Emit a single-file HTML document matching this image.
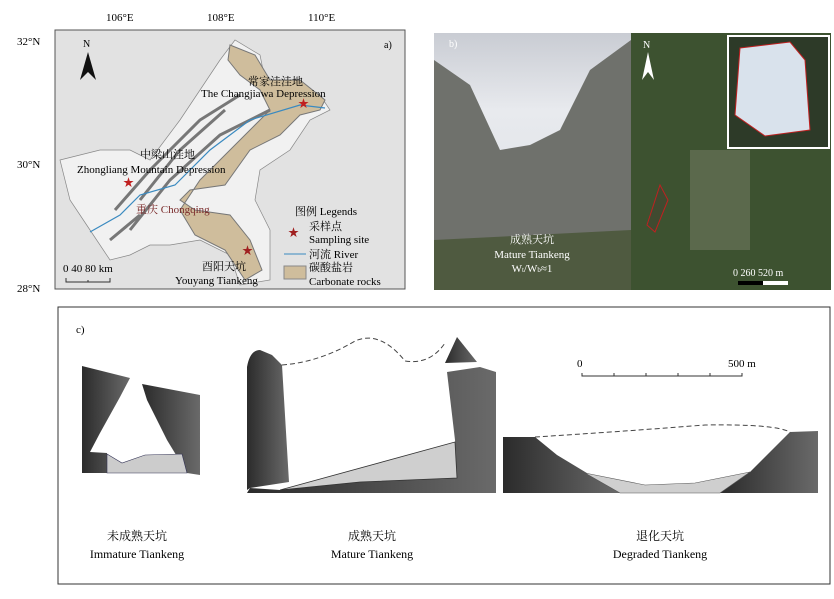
<!DOCTYPE html>
<html><head><meta charset="utf-8"><style>
body{margin:0;background:#fff;width:834px;height:599px;overflow:hidden}
svg{display:block}
text{font-family:"Liberation Serif","Noto Serif CJK SC",serif}
</style></head><body>
<svg width="834" height="599" viewBox="0 0 834 599">
<defs>
<linearGradient id="sky" x1="0" y1="0" x2="0" y2="1"><stop offset="0" stop-color="#c9ccd3"/><stop offset="0.3" stop-color="#e8eaee"/><stop offset="1" stop-color="#d9dde2"/></linearGradient>
<linearGradient id="rk" x1="0" y1="0" x2="1" y2="0"><stop offset="0" stop-color="#2b2b2b"/><stop offset="1" stop-color="#6a6a6a"/></linearGradient>
</defs>
<!-- panel a -->
<rect x="55" y="30" width="350" height="259" fill="#e2e2e2" stroke="#555"/>
<path d="M60 160 L100 150 L130 150 L150 160 L180 120 L220 60 L235 40 L260 55 L265 80 L290 80 L320 95 L330 110 L310 120 L290 150 L260 170 L255 200 L270 230 L270 280 L240 285 L230 255 L200 240 L170 245 L150 245 L130 255 L110 260 L90 230 L70 200 Z" fill="#f1f1f1" stroke="#888" stroke-width="0.7"/>
<path d="M230 45 L255 55 L270 80 L300 80 L325 100 L320 110 L300 115 L280 135 L250 150 L225 185 L190 190 L180 200 L195 210 L230 215 L250 240 L262 270 L245 280 L225 250 L195 235 L180 210 L200 180 L220 160 L250 130 L270 110 L260 90 L240 75 L228 60 Z" fill="#cfbd9c" stroke="#777" stroke-width="1"/>
<path d="M115 210 L150 170 L200 120 L240 95 M130 230 L170 180 L220 135 L270 110 M140 200 L180 150 L225 110 M110 240 L140 215" stroke="#777" stroke-width="3" fill="none"/>
<path d="M90 232 L120 215 L140 195 L175 185 L210 150 L250 120 L300 105 L325 108" stroke="#3a8ac0" stroke-width="1.2" fill="none"/>
<text x="83" y="47" font-size="10">N</text><path d="M80 80 L88 52 L96 80 L88 72 Z" fill="#111"/>
<text x="106" y="21" font-size="11">106°E</text><text x="207" y="21" font-size="11">108°E</text><text x="308" y="21" font-size="11">110°E</text>
<text x="17" y="45" font-size="11">32°N</text><text x="17" y="168" font-size="11">30°N</text><text x="17" y="292" font-size="11">28°N</text>
<text x="384" y="48" font-size="10">a)</text>
<text x="248" y="85" font-size="11">常家洼洼地</text><text x="201" y="97" font-size="11">The Changjiawa Depression</text>
<text x="140" y="158" font-size="11">中梁山洼地</text><text x="77" y="173" font-size="11">Zhongliang Mountain Depression</text>
<text x="136" y="213" font-size="11" fill="#7a2a2a">重庆 Chongqing</text>
<text x="202" y="270" font-size="11">酉阳天坑</text><text x="175" y="284" font-size="11">Youyang Tiankeng</text>
<text x="295" y="215" font-size="11">图例 Legends</text>
<text x="309" y="230" font-size="11">采样点</text><text x="309" y="243" font-size="11">Sampling site</text>
<text x="309" y="258" font-size="11">河流 River</text><text x="309" y="271" font-size="11">碳酸盐岩</text><text x="309" y="285" font-size="11">Carbonate rocks</text>
<text x="288" y="236" font-size="11" fill="#a02020">★</text><text x="242" y="254" font-size="11" fill="#a02020">★</text>
<text x="123" y="186" font-size="11" fill="#c02020">★</text><text x="298" y="107" font-size="11" fill="#c02020">★</text>
<line x1="284" y1="254" x2="306" y2="254" stroke="#3a8ac0"/>
<rect x="284" y="266" width="22" height="13" fill="#cfbd9c" stroke="#888"/>
<text x="63" y="272" font-size="11">0  40  80 km</text>
<path d="M66 278 V282 H110 V278 M88 280 V282" stroke="#333" fill="none"/>
<!-- panel b -->
<rect x="434" y="33" width="197" height="257" fill="url(#sky)"/>
<path d="M434 60 L470 85 L500 150 L530 145 L560 130 L590 70 L631 40 L631 290 L434 290 Z" fill="#6f716c"/>
<path d="M434 240 L631 230 L631 290 L434 290 Z" fill="#4f5a40"/>
<text x="532" y="243" font-size="11" fill="#fff" text-anchor="middle">成熟天坑</text>
<text x="532" y="258" font-size="11" fill="#fff" text-anchor="middle">Mature Tiankeng</text>
<text x="532" y="272" font-size="11" fill="#fff" text-anchor="middle">W<tspan font-size="7">t</tspan>/W<tspan font-size="7">b</tspan>≈1</text>
<text x="449" y="47" font-size="10" fill="#fff">b)</text>
<rect x="631" y="33" width="200" height="257" fill="#3d5230"/>
<rect x="690" y="150" width="60" height="100" fill="#6f7a5f" opacity="0.6"/>
<path d="M647 225 L660 185 L668 200 L655 232 Z" fill="#404a30" stroke="#c02020"/>
<rect x="728" y="36" width="101" height="112" fill="#2d3a28" stroke="#fff" stroke-width="2"/>
<path d="M740 48 L790 42 L805 60 L810 130 L765 136 L735 115 Z" fill="#d9e2ec" stroke="#c02020"/>
<text x="643" y="48" font-size="10" fill="#fff">N</text><path d="M642 80 L648 52 L654 80 L648 72 Z" fill="#fff"/>
<text x="733" y="276" font-size="10" fill="#fff">0   260  520 m</text>
<rect x="738" y="281" width="50" height="4" fill="#000"/><rect x="763" y="281" width="25" height="4" fill="#fff"/>
<!-- panel c -->
<rect x="58" y="307" width="772" height="277" fill="#fff" stroke="#333"/>
<text x="76" y="333" font-size="11">c)</text>
<path d="M82 366 L130 378 L120 397 L100 433 L90 452 L107 453 L107 473 L82 473 Z" fill="url(#rk)"/>
<path d="M142 384 L200 395 L200 475 L187 473 L167 440 L147 400 Z" fill="url(#rk)"/>
<path d="M107 454 L122 463 L145 455 L182 454 L187 473 L107 473 Z" fill="#ccc" stroke="#335" stroke-width="0.6"/>
<path d="M247 367 Q250 350 260 350 L272 355 L282 365 L289 482 L250 488 L247 490 Z" fill="url(#rk)"/>
<path d="M445 363 L457 337 L477 362 Z" fill="url(#rk)"/>
<path d="M447 372 L480 367 L496 372 L496 493 L247 493 L250 488 L280 490 L360 482 L457 478 L455 440 Z" fill="url(#rk)"/>
<path d="M280 490 L455 442 L457 478 L360 482 Z" fill="#cfcfcf" stroke="#333" stroke-width="0.8"/>
<path d="M282 365 Q320 362 355 341 Q380 330 405 361 Q430 365 445 343" stroke="#444" stroke-dasharray="5,3" fill="none"/>
<path d="M503 437 L535 437 L557 455 L620 493 L503 493 Z" fill="url(#rk)"/>
<path d="M790 432 L818 431 L818 493 L720 493 L750 472 L775 447 Z" fill="url(#rk)"/>
<path d="M585 473 L645 485 L695 483 L750 472 L720 493 L620 493 Z" fill="#cfcfcf" stroke="#555" stroke-width="0.6"/>
<path d="M535 437 Q615 432 705 425 Q775 424 790 432" stroke="#444" stroke-dasharray="5,3" fill="none"/>
<text x="577" y="367" font-size="11">0</text><text x="728" y="367" font-size="11">500 m</text>
<path d="M582 373 V376 H742 V373 M614 373 V376 M646 373 V376 M678 373 V376 M710 373 V376" stroke="#333" fill="none"/>
<text x="137" y="540" font-size="12" text-anchor="middle">未成熟天坑</text><text x="137" y="558" font-size="12" text-anchor="middle">Immature Tiankeng</text>
<text x="372" y="540" font-size="12" text-anchor="middle">成熟天坑</text><text x="372" y="558" font-size="12" text-anchor="middle">Mature Tiankeng</text>
<text x="660" y="540" font-size="12" text-anchor="middle">退化天坑</text><text x="660" y="558" font-size="12" text-anchor="middle">Degraded Tiankeng</text>
</svg>
</body></html>
